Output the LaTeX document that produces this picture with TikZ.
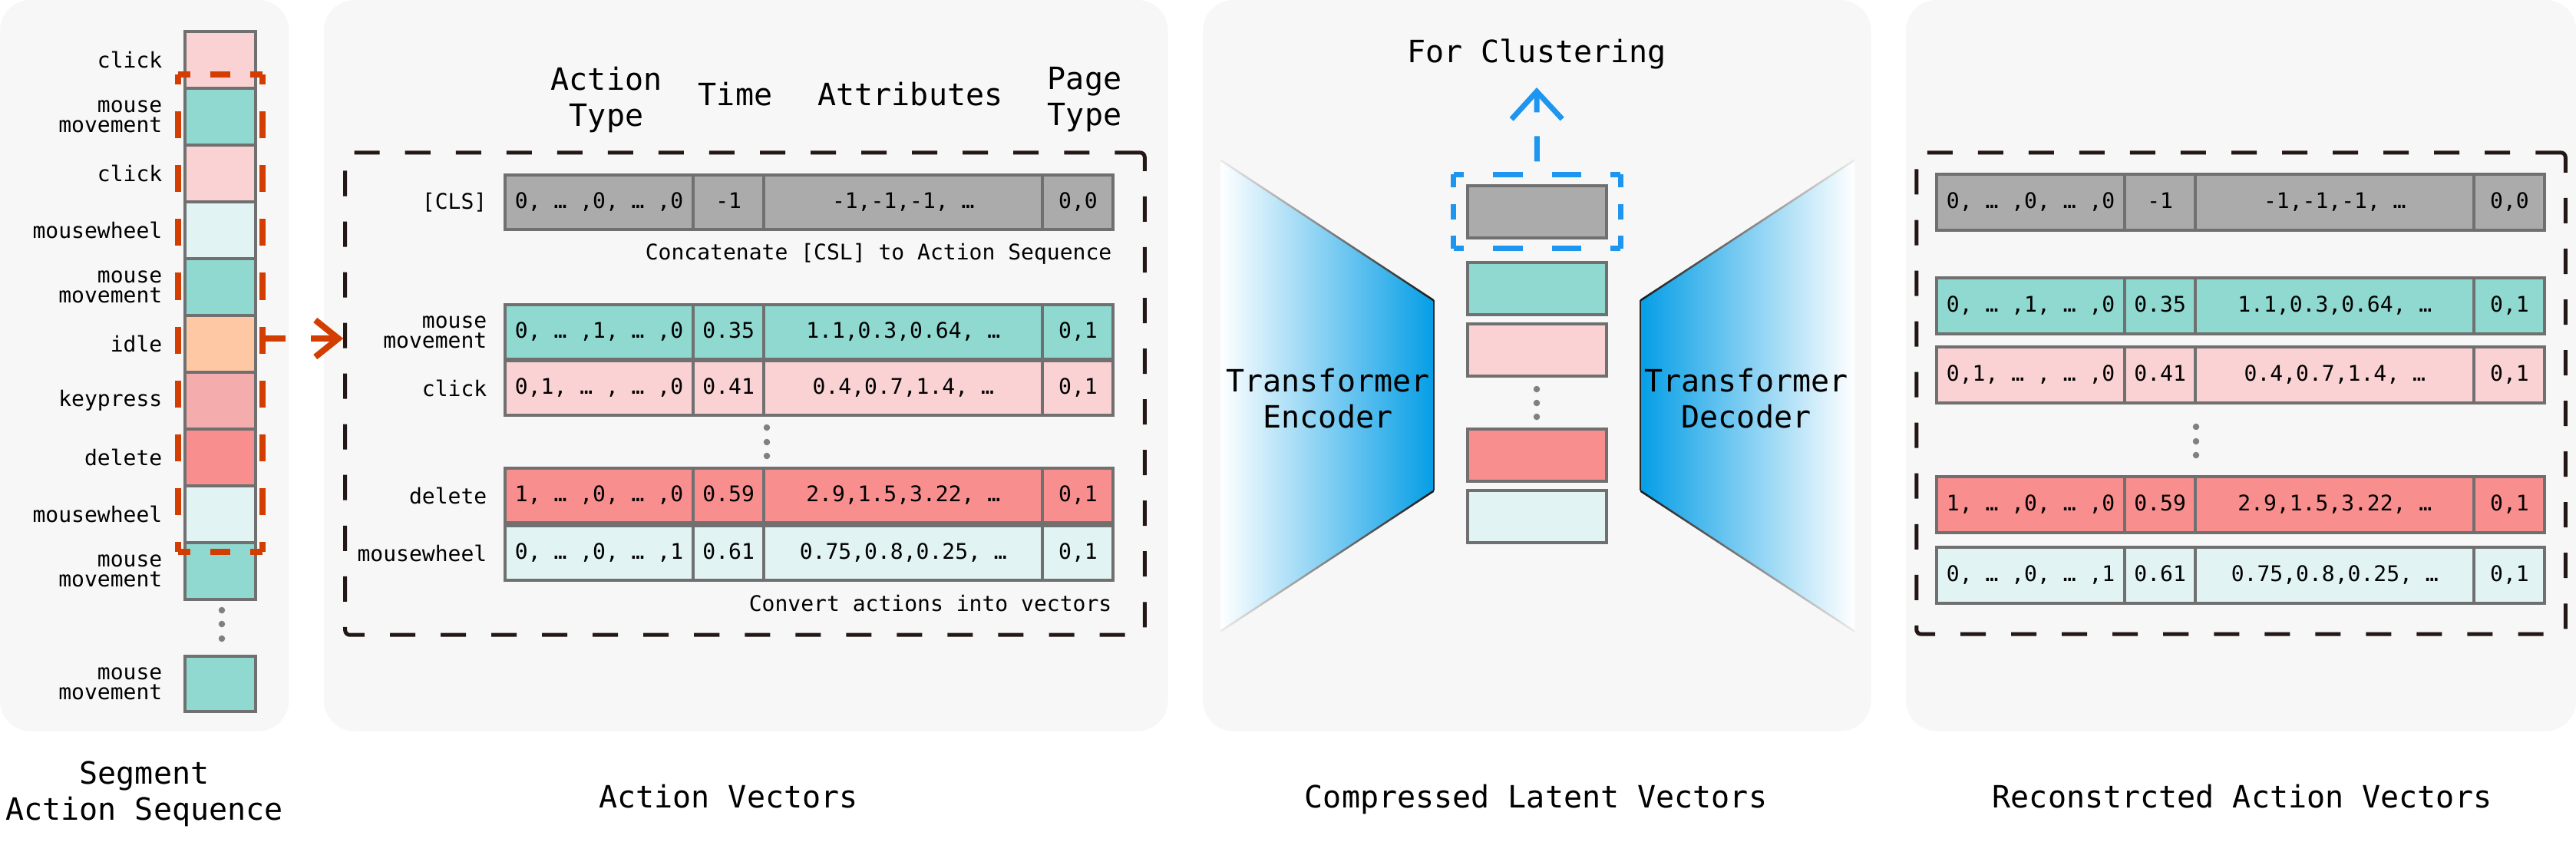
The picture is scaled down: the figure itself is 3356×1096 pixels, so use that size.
\documentclass[tikz,border=0pt]{standalone}
\usepackage{fontspec}
\setmainfont{DejaVu Sans Mono}
\setmonofont{DejaVu Sans Mono}
\usetikzlibrary{arrows.meta,calc}
\definecolor{panelbg}{HTML}{F7F7F7}
\definecolor{bordergray}{HTML}{707070}
\definecolor{dotgray}{HTML}{808080}
\definecolor{cgray}{HTML}{ABABAB}
\definecolor{cteal}{HTML}{90D9D1}
\definecolor{cpink}{HTML}{FAD2D3}
\definecolor{clight}{HTML}{E1F3F3}
\definecolor{cpeach}{HTML}{FDC8A3}
\definecolor{ckey}{HTML}{F5ACAC}
\definecolor{cdel}{HTML}{F88E8E}
\definecolor{segred}{HTML}{D43D00}
\definecolor{dashblack}{HTML}{231815}
\definecolor{clusterblue}{HTML}{1E96F0}
\definecolor{encblue}{HTML}{059EE6}
\newcommand\smallf{\fontsize{7.97pt}{7.4pt}\selectfont}
\newcommand\bigf{\fontsize{11.38pt}{13.4pt}\selectfont}
\newcommand\rowh{0.71cm}
\newcommand\vecrow[8]{%
  \node[cellbox, fill=#4, minimum width=2.45cm] (#1a) at (#2,#3) {#5};
  \node[cellbox, fill=#4, minimum width=0.92cm] (#1b) at (#1a.north east) {#6};
  \node[cellbox, fill=#4, minimum width=3.63cm] (#1c) at (#1b.north east) {#7};
  \node[cellbox, fill=#4, minimum width=0.92cm] (#1d) at (#1c.north east) {#8};
}
\tikzset{
  panel/.style={fill=panelbg, draw=none, rounded corners=0.4cm, anchor=north west, inner sep=0, outer sep=0, minimum height=9.52cm},
  seqbox/.style={draw=bordergray, line width=0.04cm, minimum width=0.92cm, minimum height=0.74cm, inner sep=0, outer sep=0, anchor=north west},
  latbox/.style={draw=bordergray, line width=0.04cm, minimum width=1.81cm, minimum height=0.68cm, inner sep=0, outer sep=0, anchor=north west},
  cellbox/.style={draw=bordergray, line width=0.04cm, inner sep=0, outer sep=0, anchor=north west, font=\smallf, text height=0.21cm, text depth=0.06cm, minimum height=\rowh},
  lbl/.style={font=\smallf, align=right, anchor=east, inner sep=0},
  big/.style={font=\bigf, align=center, inner sep=0},
  gdot/.style={circle, fill=dotgray, draw=none, inner sep=0, minimum size=0.085cm},
  segH/.style={draw=segred, line width=0.08cm, dash pattern=on 0.26cm off 0.26cm, dash phase=0.10cm},
  segV/.style={draw=segred, line width=0.08cm, dash pattern=on 0.35cm off 0.35cm, dash phase=0.215cm},
  segarrow/.style={draw=segred, line width=0.08cm, dash pattern=on 0.3cm off 0.33cm, -{Straight Barb[length=0.3cm,width=0.48cm]}},
  blackdash/.style={draw=dashblack, line width=0.05cm, dash pattern=on 0.33cm off 0.33cm, rounded corners=0.06cm, inner sep=0},
  clH/.style={draw=clusterblue, line width=0.07cm, dash pattern=on 0.38cm off 0.38cm, dash phase=0.245cm},
  clV/.style={draw=clusterblue, line width=0.07cm, dash pattern=on 0.20cm off 0.21cm, dash phase=0.03cm},
  bluearrow/.style={draw=clusterblue, line width=0.07cm, dash pattern=on 0.33cm off 0.31cm, dash phase=0.47cm, -{Straight Barb[length=0.36cm,width=0.66cm]}},
}
\begin{document}
\begin{tikzpicture}[x=0.01cm, y=-0.01cm]
\fill[white] (0,0) rectangle (3356,1096);
\useasboundingbox (0,0) rectangle (3356,1096);

% panels
\node[panel, minimum width=3.76cm] (p1) at (0,0) {};
\node[panel, minimum width=10.99cm] (p2) at (422,0) {};
\node[panel, minimum width=8.70cm] (p3) at (1567,0) {};
\node[panel, minimum width=8.73cm] (p4) at (2483,0) {};

% ---------- panel 1: segment action sequence
\node[seqbox, fill=cpink]  (s1)  at (241,41)  {};
\node[seqbox, fill=cteal]  (s2)  at (241,115) {};
\node[seqbox, fill=cpink]  (s3)  at (241,189) {};
\node[seqbox, fill=clight] (s4)  at (241,263) {};
\node[seqbox, fill=cteal]  (s5)  at (241,337) {};
\node[seqbox, fill=cpeach] (s6)  at (241,411) {};
\node[seqbox, fill=ckey]   (s7)  at (241,485) {};
\node[seqbox, fill=cdel]   (s8)  at (241,559) {};
\node[seqbox, fill=clight] (s9)  at (241,633) {};
\node[seqbox, fill=cteal]  (s10) at (241,707) {};
\node[seqbox, fill=cteal, minimum height=0.72cm] (s11) at (241,855) {};

\node[lbl] (t1)  at ([xshift=-0.29cm]s1.west)  {click};
\node[lbl] (t2)  at ([xshift=-0.29cm]s2.west)  {mouse\\movement};
\node[lbl] (t3)  at ([xshift=-0.29cm]s3.west)  {click};
\node[lbl] (t4)  at ([xshift=-0.29cm]s4.west)  {mousewheel};
\node[lbl] (t5)  at ([xshift=-0.29cm]s5.west)  {mouse\\movement};
\node[lbl] (t6)  at ([xshift=-0.29cm]s6.west)  {idle};
\node[lbl] (t7)  at ([xshift=-0.29cm]s7.west)  {keypress};
\node[lbl] (t8)  at ([xshift=-0.29cm]s8.west)  {delete};
\node[lbl] (t9)  at ([xshift=-0.29cm]s9.west)  {mousewheel};
\node[lbl] (t10) at ([xshift=-0.29cm]s10.west) {mouse\\movement};
\node[lbl] (t11) at ([xshift=-0.29cm]s11.west) {mouse\\movement};

\node[gdot] (sd1) at (289,795) {};
\node[gdot] (sd2) at (289,813) {};
\node[gdot] (sd3) at (289,832) {};

% red dashed segment window
\node[draw=none, inner sep=0, outer sep=0, minimum width=1.10cm, minimum height=6.22cm] (seg) at (287,408) {};
\draw[segH] (seg.north west) -- (seg.north east);
\draw[segH] (seg.south west) -- (seg.south east);
\draw[segV] (seg.north west) -- (seg.south west);
\draw[segV] (seg.north east) -- (seg.south east);

% ---------- panel 2: action vectors
\node[big] (h1) at (790,130) {Action\\Type};
\node[big] (h2) at (958,123) {Time};
\node[big] (h3) at (1186,123) {Attributes};
\node[big] (h4) at (1413,130) {Page\\Type};

\node[blackdash, minimum width=10.41cm, minimum height=6.28cm] (avbox) at (970.5,513) {};

\vecrow{ra}{658}{228}{cgray}{0, … ,0, … ,0}{-1}{-1,-1,-1, …}{0,0}
\vecrow{rb}{658}{397}{cteal}{0, … ,1, … ,0}{0.35}{1.1,0.3,0.64, …}{0,1}
\vecrow{rc}{658}{470}{cpink}{0,1, … , … ,0}{0.41}{0.4,0.7,1.4, …}{0,1}
\vecrow{rd}{658}{610}{cdel}{1, … ,0, … ,0}{0.59}{2.9,1.5,3.22, …}{0,1}
\vecrow{re}{658}{685}{clight}{0, … ,0, … ,1}{0.61}{0.75,0.8,0.25, …}{0,1}

\node[lbl] (la) at ([xshift=-0.23cm]raa.west) {[CLS]};
\node[lbl] (lb) at ([xshift=-0.23cm]rba.west) {mouse\\movement};
\node[lbl] (lc) at ([xshift=-0.23cm]rca.west) {click};
\node[lbl] (ld) at ([xshift=-0.23cm]rda.west) {delete};
\node[lbl] (le) at ([xshift=-0.23cm]rea.west) {mousewheel};

\node[lbl, anchor=east] (cap1) at (1449,331) {Concatenate [CSL] to Action Sequence};
\node[lbl, anchor=east] (cap2) at (1449,786) {Convert actions into vectors};

\node[gdot] (ad1) at (999,557) {};
\node[gdot] (ad2) at (999,576) {};
\node[gdot] (ad3) at (999,594) {};

% arrow from segment to action vectors
\draw[segarrow] ([yshift=-0.33cm]seg.east) -- ([yshift=-0.33cm]seg.east -| avbox.west);

% ---------- panel 3: latent vectors
\node[big, anchor=base] (fcl) at (2002,81) {For Clustering};

\shade[left color=white, right color=encblue] (1590,208) -- (1868,391) -- (1868,639) -- (1590,822) -- cycle;
\shade[left color=black!8, right color=black!90] (1590,207) -- (1868,390) -- (1868,393) -- (1590,210) -- cycle;
\shade[left color=black!8, right color=black!90] (1590,821) -- (1868,638) -- (1868,641) -- (1590,824) -- cycle;
\draw[black!85, line width=0.02cm] (1868,391) -- (1868,639);

\shade[left color=encblue, right color=white] (2416,208) -- (2137,391) -- (2137,639) -- (2416,822) -- cycle;
\shade[left color=black!90, right color=black!8] (2416,207) -- (2137,390) -- (2137,393) -- (2416,210) -- cycle;
\shade[left color=black!90, right color=black!8] (2416,821) -- (2137,638) -- (2137,641) -- (2416,824) -- cycle;
\draw[black!85, line width=0.02cm] (2137,391) -- (2137,639);

\node[big] (enc) at (1730,519) {Transformer\\Encoder};
\node[big] (dec) at (2275,519) {Transformer\\Decoder};

\node[latbox, fill=cgray]  (z1) at (1912,242) {};
\node[latbox, fill=cteal]  (z2) at (1912,342) {};
\node[latbox, fill=cpink]  (z3) at (1912,421.5) {};
\node[latbox, fill=cdel]   (z4) at (1912,559) {};
\node[latbox, fill=clight] (z5) at (1912,639) {};

\node[gdot] (zd1) at (2002,507) {};
\node[gdot] (zd2) at (2002,525) {};
\node[gdot] (zd3) at (2002,543) {};

\node[draw=none, inner sep=0, outer sep=0, minimum width=2.17cm, minimum height=0.96cm] (clbox) at (2002.5,275.5) {};
\draw[clH] (clbox.north west) -- (clbox.north east);
\draw[clH] (clbox.south west) -- (clbox.south east);
\draw[clV] (clbox.north west) -- (clbox.south west);
\draw[clV] (clbox.north east) -- (clbox.south east);

\coordinate (clt) at (2002,114);
\draw[bluearrow] (clbox.north) -- (clt);

% ---------- panel 4: reconstructed vectors
\node[blackdash, minimum width=8.45cm, minimum height=6.27cm] (rbox) at (2919.5,512.5) {};
\renewcommand\rowh{0.73cm}
\vecrow{qa}{2523}{227}{cgray}{0, … ,0, … ,0}{-1}{-1,-1,-1, …}{0,0}
\vecrow{qb}{2523}{362}{cteal}{0, … ,1, … ,0}{0.35}{1.1,0.3,0.64, …}{0,1}
\vecrow{qc}{2523}{452}{cpink}{0,1, … , … ,0}{0.41}{0.4,0.7,1.4, …}{0,1}
\vecrow{qd}{2523}{621}{cdel}{1, … ,0, … ,0}{0.59}{2.9,1.5,3.22, …}{0,1}
\vecrow{qe}{2523}{713}{clight}{0, … ,0, … ,1}{0.61}{0.75,0.8,0.25, …}{0,1}

\node[gdot] (qd1) at (2861,556) {};
\node[gdot] (qd2) at (2861,575) {};
\node[gdot] (qd3) at (2861,593) {};

% ---------- bottom captions
\node[big] (capseg) at (188,1034) {Segment\\Action Sequence};
\node[big, anchor=base] (capav) at (949,1052) {Action Vectors};
\node[big, anchor=base] (caplat) at (2001,1052) {Compressed Latent Vectors};
\node[big, anchor=base] (caprec) at (2921,1052) {Reconstrcted Action Vectors};
\end{tikzpicture}
\end{document}
